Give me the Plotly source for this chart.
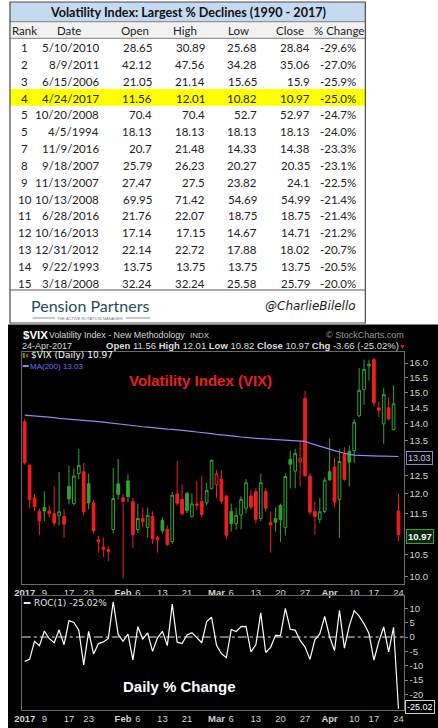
import math
import plotly.graph_objects as go

W, H = 438, 728

# ---------------- table data ----------------
table_title = "Volatility Index: Largest % Declines (1990 - 2017)"
table_headers = ["Rank", "Date", "Open", "High", "Low", "Close", "% Change"]
table_rank = ["1", "2", "3", "4", "5", "5", "7", "8", "9", "10", "11", "12", "13", "14", "15"]
table_date = ["5/10/2010", "8/9/2011", "6/15/2006", "4/24/2017", "10/20/2008", "4/5/1994",
              "11/9/2016", "9/18/2007", "11/13/2007", "10/13/2008", "6/28/2016", "10/16/2013",
              "12/31/2012", "9/22/1993", "3/18/2008"]
table_open = [28.65, 42.12, 21.05, 11.56, 70.4, 18.13, 20.7, 25.79, 27.47, 69.95, 21.76, 17.14, 22.14, 13.75, 32.24]
table_high = [30.89, 47.56, 21.14, 12.01, 70.4, 18.13, 21.48, 26.23, 27.5, 71.42, 22.07, 17.15, 22.72, 13.75, 32.24]
table_low = [25.68, 34.28, 15.65, 10.82, 52.7, 18.13, 14.33, 20.27, 23.82, 54.69, 18.75, 14.67, 17.88, 13.75, 25.58]
table_close = [28.84, 35.06, 15.9, 10.97, 52.97, 18.13, 14.38, 20.35, 24.1, 54.99, 18.75, 14.71, 18.02, 13.75, 25.79]
table_pct = [-29.6, -27.0, -25.9, -25.0, -24.7, -24.0, -23.3, -23.1, -22.5, -21.4, -21.4, -21.2, -20.7, -20.5, -20.0]
highlight_row = 3

# ---------------- chart data ----------------
dates = [
    "2017-01-03", "2017-01-04", "2017-01-05", "2017-01-06", "2017-01-09", "2017-01-10", "2017-01-11",
    "2017-01-12", "2017-01-13", "2017-01-17", "2017-01-18", "2017-01-19", "2017-01-20", "2017-01-23",
    "2017-01-24", "2017-01-25", "2017-01-26", "2017-01-27", "2017-01-30", "2017-01-31",
    "2017-02-01", "2017-02-02", "2017-02-03", "2017-02-06", "2017-02-07", "2017-02-08", "2017-02-09",
    "2017-02-10", "2017-02-13", "2017-02-14", "2017-02-15", "2017-02-16", "2017-02-17", "2017-02-21",
    "2017-02-22", "2017-02-23", "2017-02-24", "2017-02-27", "2017-02-28",
    "2017-03-01", "2017-03-02", "2017-03-03", "2017-03-06", "2017-03-07", "2017-03-08", "2017-03-09",
    "2017-03-10", "2017-03-13", "2017-03-14", "2017-03-15", "2017-03-16", "2017-03-17", "2017-03-20",
    "2017-03-21", "2017-03-22", "2017-03-23", "2017-03-24", "2017-03-27", "2017-03-28", "2017-03-29",
    "2017-03-30", "2017-03-31",
    "2017-04-03", "2017-04-04", "2017-04-05", "2017-04-06", "2017-04-07", "2017-04-10", "2017-04-11",
    "2017-04-12", "2017-04-13", "2017-04-17", "2017-04-18", "2017-04-19", "2017-04-20", "2017-04-21",
    "2017-04-24"]
prev_close = 14.04
vix_open = [14.07, 12.78, 11.90, 11.55, 11.65, 11.56, 11.49, 11.45, 11.42, 12.20,
            11.75, 12.55, 12.60, 12.27, 11.77, 10.85, 10.68, 10.62, 11.10, 12.27,
            11.90, 12.35, 11.80, 11.10, 11.37, 11.15, 11.42, 10.90, 11.32, 11.10,
            10.81, 12.00, 11.86, 12.02, 11.42, 11.74, 11.80, 11.77, 12.15, 12.25,
            12.40, 11.95, 11.55, 11.25, 11.46, 11.63, 11.95, 12.06, 11.37, 12.07,
            11.28, 11.37, 11.70, 11.15, 12.95, 12.62, 12.88, 14.80, 12.48, 11.55,
            11.35, 11.55, 12.60, 12.73, 11.86, 13.10, 13.18, 13.20, 14.25, 15.10,
            15.90, 16.12, 14.50, 14.00, 14.50, 13.82, 11.56]
vix_high = [14.15, 12.82, 12.00, 11.62, 12.07, 11.70, 12.20, 12.60, 11.60, 12.78,
            12.70, 13.25, 12.85, 12.55, 11.85, 10.95, 10.90, 10.70, 12.70, 12.96,
            12.00, 12.53, 11.90, 11.75, 11.65, 11.65, 11.55, 10.95, 11.40, 11.20,
            12.05, 12.90, 12.25, 12.05, 12.02, 12.35, 12.50, 12.30, 12.95, 12.65,
            12.65, 11.98, 11.75, 11.65, 11.95, 12.40, 12.10, 12.15, 12.55, 12.15,
            11.55, 11.65, 11.75, 12.55, 13.20, 13.25, 13.50, 15.05, 12.55, 11.80,
            11.90, 12.45, 13.55, 13.00, 13.25, 13.30, 13.35, 14.15, 15.83, 16.12,
            16.12, 16.18, 14.70, 15.15, 14.85, 15.24, 12.01]
vix_low = [12.80, 11.63, 11.55, 10.96, 11.30, 11.40, 11.18, 11.20, 10.90, 11.73,
           11.70, 12.40, 11.45, 11.60, 11.00, 10.55, 10.45, 10.35, 11.00, 11.85,
           9.97, 11.78, 10.65, 11.00, 11.15, 10.90, 10.75, 10.55, 11.00, 10.70,
           10.75, 11.70, 11.45, 11.50, 11.40, 11.60, 11.40, 11.70, 12.12, 11.90,
           11.75, 10.87, 11.05, 11.10, 11.10, 11.50, 11.60, 11.25, 11.30, 11.55,
           10.55, 11.05, 10.80, 10.95, 12.15, 12.15, 12.20, 12.45, 11.45, 10.98,
           11.25, 11.50, 12.35, 11.65, 10.90, 12.35, 12.20, 12.85, 14.20, 14.60,
           15.40, 14.55, 14.20, 13.40, 14.10, 13.80, 10.82]
vix_close = [12.85, 11.85, 11.67, 11.32, 11.56, 11.49, 11.26, 11.54, 11.23, 11.87,
             12.48, 12.78, 11.54, 11.77, 11.07, 10.81, 10.63, 10.58, 11.88, 11.99,
             11.81, 11.93, 10.97, 11.37, 11.29, 11.45, 10.88, 10.85, 11.07, 10.74,
             11.97, 11.76, 11.49, 11.57, 11.74, 11.71, 11.47, 12.09, 12.92, 12.54,
             11.81, 10.96, 11.24, 11.45, 11.86, 12.30, 11.66, 11.35, 12.30, 11.63,
             11.21, 11.28, 11.34, 12.47, 12.81, 13.12, 12.96, 12.50, 11.53, 11.42,
             11.54, 12.37, 12.38, 11.79, 12.89, 12.39, 12.87, 14.05, 15.07, 15.77,
             15.96, 14.66, 14.42, 14.93, 14.15, 14.63, 10.97]
ma200 = [14.27, 14.26, 14.25, 14.23, 14.22, 14.20, 14.19, 14.17, 14.16, 14.15,
         14.13, 14.12, 14.11, 14.10, 14.08, 14.07, 14.05, 14.03, 14.01, 13.99,
         13.98, 13.96, 13.94, 13.93, 13.91, 13.90, 13.88, 13.87, 13.86, 13.84,
         13.83, 13.82, 13.80, 13.79, 13.77, 13.75, 13.74, 13.72, 13.70, 13.68,
         13.67, 13.65, 13.63, 13.62, 13.60, 13.58, 13.57, 13.56, 13.55, 13.54,
         13.53, 13.52, 13.51, 13.50, 13.50, 13.49, 13.48, 13.47, 13.42, 13.38,
         13.34, 13.30, 13.25, 13.20, 13.16, 13.12, 13.09, 13.07, 13.06, 13.05,
         13.05, 13.04, 13.04, 13.04, 13.03, 13.03, 13.03]
roc1 = [-8.5, -7.8, -1.5, -3.0, 2.1, -0.6, -2.0, 2.5, -2.7, 5.7,
        5.1, 2.4, -9.7, 2.0, -5.9, -2.3, -1.7, -0.5, 12.3, 0.9,
        -1.5, 1.0, -8.0, 3.6, -0.7, 1.4, -5.0, -0.3, 2.0, -3.0,
        11.5, -1.8, -2.3, 0.7, 1.5, -0.3, -2.0, 5.4, 6.9, -2.9,
        -5.8, -7.2, 2.6, 1.9, 3.6, 3.7, -5.2, -2.7, 8.4, -5.4,
        -3.6, 0.6, 0.5, 10.0, 2.7, 2.4, -1.2, -3.5, -7.8, -1.0,
        1.1, 7.2, 0.1, -4.8, 9.3, -3.9, 3.9, 9.2, 7.3, 4.6,
        1.2, -8.1, -1.6, 3.5, -5.2, 3.4, -25.02]
tick_dates = ["2017-01-03", "2017-01-09", "2017-01-17", "2017-01-23", "2017-02-01", "2017-02-06",
              "2017-02-13", "2017-02-21", "2017-03-01", "2017-03-06", "2017-03-13", "2017-03-20",
              "2017-03-27", "2017-04-03", "2017-04-10", "2017-04-17", "2017-04-24"]
tick_text = ["<b>2017</b>", "9", "17", "23", "<b>Feb</b>", "6", "13", "21", "<b>Mar</b>", "6", "13",
             "20", "27", "<b>Apr</b>", "10", "17", "24"]
price_ticks = [10.0, 10.5, 11.5, 12.0, 12.5, 13.5, 14.0, 14.5, 15.0, 15.5, 16.0]
roc_ticks = [-20, -15, -10, -5, 0, 5, 10]

# ---------------- styling ----------------
TF = "Lato"
AF = "Liberation Sans"
RED = "#f01e1e"
GREEN = "#2fa52f"
MA_COL = "#8a8aee"
AXC = "#d4d4c8"

def px(x):
    return x / W

def py(y):
    return 1 - y / H

shapes = []
annotations = []

def rect(x0, y0, x1, y1, fill="rgba(0,0,0,0)", lc="rgba(0,0,0,0)", lw=0, layer="above"):
    shapes.append(dict(type="rect", xref="paper", yref="paper", x0=px(x0), x1=px(x1),
                       y0=py(y1), y1=py(y0), fillcolor=fill, line=dict(color=lc, width=lw), layer=layer))

def hline(x0, x1, y, color, width=1, dash="solid"):
    shapes.append(dict(type="line", xref="paper", yref="paper", x0=px(x0), x1=px(x1), y0=py(y), y1=py(y),
                       line=dict(color=color, width=width, dash=dash)))

def ann(x, y, text, size, color="black", family=TF, xanchor="center", yanchor="middle", **kw):
    d = dict(x=px(x), y=py(y), xref="paper", yref="paper", text=text, showarrow=False,
             font=dict(size=size, color=color, family=family), xanchor=xanchor, yanchor=yanchor,
             borderpad=0, borderwidth=0)
    d.update(kw)
    annotations.append(d)

# ---------------- table ----------------
T_L, T_R, T_T, T_B = 2, 364, 2, 323
rect(T_L, T_T, T_R, T_B, fill="white")
rect(T_L, T_T, T_R, 21.7, fill="#c5d9f1")
rect(T_L, 21.7, T_R, 38.3, fill="#f2f2f2")
row0, rowh = 47.7, 16.82
rect(T_L, row0 + highlight_row * rowh - 9.2, T_R, row0 + highlight_row * rowh + 7.6, fill="#ffff00")
hline(T_L, T_R, 21.7, "#7f7f7f", 1)
hline(T_L, T_R, 38.3, "#7f7f7f", 1)
hline(T_L, T_R, 290, "#5a5a5a", 1)
rect(T_L, T_T, T_R, T_B, lc="#4a4a4a", lw=1.2)

ann(183, 12.3, "<b>" + table_title + "</b>", 12.6, "#101010")
head_x = [17, 62, 129, 180, 235, 287, 337]
for hx, h in zip(head_x, table_headers):
    ann(hx, 30.5, h, 11.5, "#222222")

col_right = [93, 147, 201, 254, 308, 354]
for r in range(len(table_rank)):
    yy = row0 + r * rowh
    ann(17, yy, table_rank[r], 11.5, "#222222")
    vals = [table_date[r], f"{table_open[r]:g}", f"{table_high[r]:g}", f"{table_low[r]:g}",
            f"{table_close[r]:g}", f"{table_pct[r]:.1f}%"]
    for cx, v in zip(col_right, vals):
        ann(cx, yy, v, 11.5, "#222222", xanchor="right")

ann(23, 305, "Pension Partners", 16, "#234d5e", TF, xanchor="left")
hline(25, 48, 318, "#6a7a80", 0.8)
hline(120, 145, 318, "#6a7a80", 0.8)
ann(84, 318, "THE ACTIVE ROTATION MANAGER", 4, "#6a7a80", AF)
ann(354, 306, "<i>@CharlieBilello</i>", 12, "#1a1a1a", "DejaVu Sans", xanchor="right")

# ---------------- chart panel ----------------
rect(0, 324.5, W, H, fill="black", layer="below")

last = len(vix_close) - 1
chg = vix_close[last] - vix_close[last - 1]
chg_pct = chg / vix_close[last - 1] * 100

ann(15, 335, "<b>$VIX</b>", 11.5, "white", AF, xanchor="left")
ann(42, 335.5, "Volatility Index - New Methodology", 8.9, "#d8d8d8", AF, xanchor="left")
ann(185, 335.5, "INDX", 8, "#d0d0d0", AF, xanchor="left")
ann(403, 335, "© StockCharts.com", 9, "#9a9a9a", AF, xanchor="right")
ann(14, 345.5, "24-Apr-2017", 9, "#dcdcdc", AF, xanchor="left")
hdr = (f"<b>Open</b> {vix_open[last]:.2f} <b>High</b> {vix_high[last]:.2f} "
       f"<b>Low</b> {vix_low[last]:.2f} <b>Close</b> {vix_close[last]:.2f} "
       f"<b>Chg</b> {chg:.2f} ({chg_pct:.2f}%)")
ann(100, 345.5, hdr, 9.5, "#dcdcdc", AF, xanchor="left")
ann(398.5, 346, "▼", 6.5, RED, AF, xanchor="left")

# legend
rect(15, 353, 17.2, 358, fill=GREEN)
rect(18.3, 354, 20.5, 357.5, fill=RED)
ann(23, 355.3, f"$VIX (Daily) {vix_close[last]:.2f}", 9, "white", "DejaVu Sans", xanchor="left")
hline(15, 21, 366, MA_COL, 2)
ann(22, 366.2, f"MA(200) {ma200[last]:.2f}", 8, "#6e6eff", AF, xanchor="left")

ann(196, 380, "<b>Volatility Index (VIX)</b>", 15, "#e8201c", AF)

hline(16, 23, 603, "#e8e8e8", 2)
ann(26, 603, f"ROC(1) {roc1[last]:.2f}%", 9, "#e0e0e0", "DejaVu Sans", xanchor="left")
ann(174.5, 686, "<b>Daily % Change</b>", 15, "white", AF)

# boxed last-value labels
ann(405, 458, f"{ma200[last]:.2f}", 9, "#c8c8ee", AF, xanchor="left",
    bordercolor="#8c8cc8", borderwidth=1, borderpad=1, bgcolor="black")
ann(405, 536, f"<b>{vix_close[last]:.2f}</b>", 9.5, "white", AF, xanchor="left",
    bordercolor="#3aa03a", borderwidth=1, borderpad=1, bgcolor="#0c260c")
ann(404, 707, f"{roc1[last]:.2f}", 9, "white", AF, xanchor="left",
    bordercolor="#d0d0d0", borderwidth=1, borderpad=1, bgcolor="black")

# ---------------- traces ----------------
fig = go.Figure()
up_idx, dn_idx = [], []
for i in range(len(vix_close)):
    pc = vix_close[i - 1] if i > 0 else prev_close
    (up_idx if vix_close[i] >= pc else dn_idx).append(i)

for idx, col in ((up_idx, GREEN), (dn_idx, RED)):
    fig.add_trace(go.Candlestick(
        x=[dates[i] for i in idx],
        open=[vix_open[i] for i in idx], high=[vix_high[i] for i in idx],
        low=[vix_low[i] for i in idx], close=[vix_close[i] for i in idx],
        increasing=dict(line=dict(color=col, width=1), fillcolor="black"),
        decreasing=dict(line=dict(color=col, width=1), fillcolor=col),
        whiskerwidth=0, showlegend=False, hoverinfo="skip", xaxis="x", yaxis="y"))

fig.add_trace(go.Scatter(x=dates, y=ma200, mode="lines", line=dict(color=MA_COL, width=1.2),
                         showlegend=False, hoverinfo="skip", xaxis="x", yaxis="y"))
fig.add_trace(go.Scatter(x=dates, y=roc1, mode="lines", line=dict(color="white", width=1.2),
                         showlegend=False, hoverinfo="skip", xaxis="x2", yaxis="y2"))

shapes.append(dict(type="line", xref="x2 domain", yref="y2", x0=0, x1=1, y0=0, y1=0,
                   line=dict(color="#e8e8e8", width=1, dash="dashdot")))

xdom = [px(14), px(403)]
xcommon = dict(domain=xdom, type="category", categoryorder="array", categoryarray=dates,
               range=[-0.6, 77.05], tickvals=tick_dates, ticktext=tick_text, tickangle=0,
               tickfont=dict(size=9.5, color=AXC, family=AF), showgrid=False, zeroline=False,
               showline=True, mirror=True, linecolor="#6a6a6a", linewidth=1, ticks="",
               fixedrange=True)
fig.update_layout(
    width=W, height=H, autosize=False,
    margin=dict(l=0, r=0, t=0, b=0, pad=0),
    paper_bgcolor="white", plot_bgcolor="black",
    boxgap=0.22,
    xaxis=dict(xcommon, anchor="y", rangeslider=dict(visible=False)),
    yaxis=dict(domain=[py(584), py(352)], type="log",
               range=[math.log10(9.847), math.log10(16.393)], side="right", anchor="x",
               tickvals=price_ticks, ticktext=[f"{v:.1f}" for v in price_ticks],
               tickfont=dict(size=9.5, color=AXC, family=AF), ticks="outside", ticklen=3,
               tickcolor="#8a8a8a", showgrid=False, zeroline=False, showline=True, mirror=True,
               linecolor="#6a6a6a", linewidth=1, fixedrange=True),
    xaxis2=dict(xcommon, anchor="y2"),
    yaxis2=dict(domain=[py(710), py(596)], range=[-25.46, 14.3], side="right", anchor="x2",
                tickvals=roc_ticks, ticktext=[str(v) for v in roc_ticks],
                tickfont=dict(size=9.5, color=AXC, family=AF), ticks="outside", ticklen=3,
                tickcolor="#8a8a8a", showgrid=False, zeroline=False, showline=True, mirror=True,
                linecolor="#6a6a6a", linewidth=1, fixedrange=True),
    shapes=shapes, annotations=annotations,
    hovermode=False,
)

fig.write_html("out.html", config={"displayModeBar": False},
               post_script="document.body.style.margin='0';document.body.style.overflow='hidden';")
